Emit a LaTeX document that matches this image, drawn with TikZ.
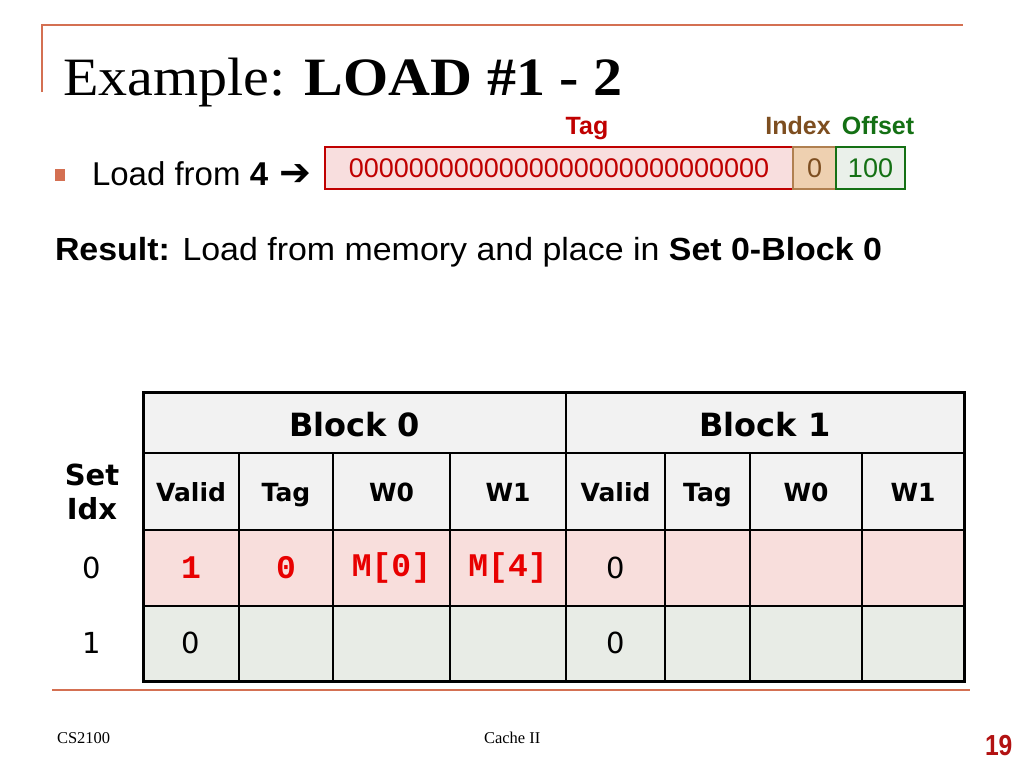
\documentclass[tikz,border=0pt]{standalone}
\usepackage{fontspec}
\setmainfont{Liberation Serif}
\newfontfamily\arial{Liberation Sans}
\newfontfamily\verd{DejaVu Sans}
\newfontfamily\cour{Liberation Mono}
\newfontfamily\djv{DejaVu Sans}
\definecolor{orangeline}{RGB}{212,112,82}
\definecolor{tagred}{RGB}{192,0,0}
\definecolor{tagfill}{RGB}{248,222,222}
\definecolor{idxbrown}{RGB}{125,78,32}
\definecolor{idxfill}{RGB}{238,208,176}
\definecolor{idxborder}{RGB}{176,128,80}
\definecolor{offgreen}{RGB}{20,112,20}
\definecolor{offfill}{RGB}{234,240,234}
\definecolor{hdrfill}{RGB}{242,242,242}
\definecolor{row0fill}{RGB}{248,222,220}
\definecolor{row1fill}{RGB}{232,236,230}
\definecolor{valred}{RGB}{232,0,0}
\definecolor{pagered}{RGB}{178,18,18}
\begin{document}
\begin{tikzpicture}[x=1pt,y=-1pt,
  every node/.style={inner sep=0pt,outer sep=0pt},
  hdr/.style={anchor=base,font=\verd\bfseries\fontsize{25}{30}\selectfont},
  blk/.style={anchor=base,font=\verd\bfseries\fontsize{32}{36}\selectfont},
  plain/.style={font=\verd\fontsize{29}{32}\selectfont},
  redval/.style={font=\cour\bfseries\fontsize{33}{36}\selectfont,text=valred},
  thick line/.style={line width=2.6pt},
  thin line/.style={line width=1.3pt},
  addrlbl/.style={anchor=base,font=\arial\bfseries\fontsize{25}{28}\selectfont}]
\useasboundingbox (0,0) rectangle (1024,768);
% frame lines
\draw[orangeline,line width=1.5pt] (42,92) -- (42,25) -- (963,25);
\draw[orangeline,line width=2.5pt] (52,690) -- (970,690);
% title
\node[anchor=base west,font=\fontsize{54}{60}\selectfont] (title) at (63,95) {\scalebox{1.075}[1]{Example: \textbf{LOAD \#1 - 2}}};
% bullet
\fill[orangeline] (55,169) rectangle (65,181);
\node[anchor=base west,font=\arial\fontsize{33}{36}\selectfont] (load) at (92,185) {Load from \textbf{4}\hspace{2pt} {\djv\bfseries\fontsize{38}{38}\selectfont ➔}};
% address boxes
\node[draw=tagred,fill=tagfill,line width=1.5pt,minimum width=468pt,minimum height=42pt,anchor=north west] (tagbox) at (325,147) {};
\node[draw=idxborder,fill=idxfill,line width=1.5pt,minimum width=43pt,minimum height=42pt,anchor=north west] (idxbox) at (793,147) {};
\node[draw=offgreen,fill=offfill,line width=1.5pt,minimum width=69pt,minimum height=42pt,anchor=north west] (offbox) at (836,147) {};
\node[font=\arial\fontsize{27}{30}\selectfont,text=tagred] (tagbits) at (tagbox.center) {0000000000000000000000000000};
\node[font=\arial\fontsize{27}{30}\selectfont,text=idxbrown] (idxbits) at (idxbox.center) {0};
\node[font=\arial\fontsize{27}{30}\selectfont,text=offgreen] (offbits) at (offbox.center) {100};
\node[addrlbl,text=tagred] (taglbl) at (587,134) {Tag};
\node[addrlbl,text=idxbrown] (idxlbl) at (798,134) {Index};
\node[addrlbl,text=offgreen] (offlbl) at (878,134) {Offset};
% result line
\node[anchor=base west,font=\arial\fontsize{32}{36}\selectfont] (result) at (55,260) {\scalebox{1.06}[1]{\textbf{Result:} Load from memory and place in \textbf{Set 0-Block 0}}};
% table fills
\fill[hdrfill] (143,392) rectangle (964,530);
\fill[row0fill] (143,530) rectangle (964,606);
\fill[row1fill] (143,606) rectangle (964,681);
% inner thin column lines
\foreach \x in {239,333,450,665,750,862}{
  \draw[thin line] (\x,453) -- (\x,681);
}
% thick lines
\draw[thick line] (566,392) -- (566,681);
\draw[thick line] (143,453) -- (964,453);
\draw[thick line] (143,530) -- (964,530);
\draw[thick line] (143,606) -- (964,606);
\draw[line width=3pt] (143,392) rectangle (964,681);
% header texts
\node[blk] (b0) at (354.5,436) {Block 0};
\node[blk] (b1) at (765,436) {Block 1};
\node[align=center,font=\verd\bfseries\fontsize{29}{34}\selectfont] (setidx) at (92,492) {Set\\Idx};
\node[hdr] (h1) at (191,501) {Valid};
\node[hdr] (h2) at (286,501) {Tag};
\node[hdr] (h3) at (391.5,501) {W0};
\node[hdr] (h4) at (508,501) {W1};
\node[hdr] (h5) at (615.5,501) {Valid};
\node[hdr] (h6) at (707.5,501) {Tag};
\node[hdr] (h7) at (806,501) {W0};
\node[hdr] (h8) at (913,501) {W1};
% rows
\node[plain] (r0) at (92,568) {0};
\node[plain] (r1) at (92,643) {1};
\node[redval] (v00) at (191,568) {1};
\node[redval] (t00) at (286,568) {0};
\node[redval] (w00) at (391.5,568) {M[0]};
\node[redval] (w01) at (508,568) {M[4]};
\node[plain] (v01) at (615.5,568) {0};
\node[plain] (v10) at (191,643) {0};
\node[plain] (v11) at (615.5,643) {0};
% footer
\node[anchor=base west,font=\fontsize{16.5}{18}\selectfont] (cs) at (57,743) {CS2100};
\node[anchor=base west,font=\fontsize{16.5}{18}\selectfont] (cache) at (484,743) {Cache II};
\node[anchor=base west,font=\arial\bfseries\fontsize{29}{30}\selectfont,text=pagered] (pg) at (985,755) {\scalebox{0.85}[1]{19}};
\end{tikzpicture}
\end{document}
